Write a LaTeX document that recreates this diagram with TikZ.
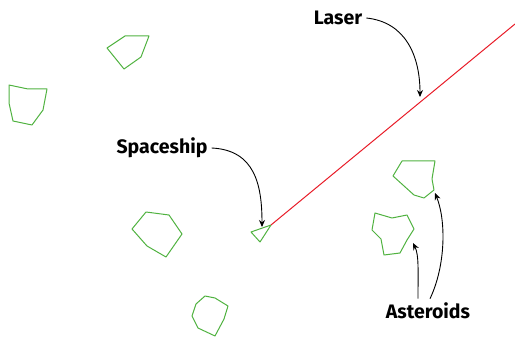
\documentclass[tikz,border=0pt]{standalone}
\usepackage{fontspec}
\setsansfont{Fira Sans}
\usetikzlibrary{arrows.meta}
\definecolor{rockgreen}{RGB}{80,178,64}
\definecolor{beamred}{RGB}{232,28,40}
\tikzset{
  rock/.style={draw=rockgreen, line width=1pt, line join=round},
  beam/.style={draw=beamred, line width=1pt},
  callout/.style={draw=black, line width=0.9pt, -{Stealth[length=7pt,width=6pt]}},
  tag/.style={font=\sffamily\bfseries\fontsize{19.5}{19.5}\selectfont, inner sep=4pt}
}
\begin{document}
\begin{tikzpicture}[x=1pt,y=-1pt]
\useasboundingbox (0,0) rectangle (515,337);
% asteroids
\draw[rock] (107,48) -- (125,36) -- (149,36) -- (141,57) -- (124,69) -- cycle;
\draw[rock] (9,85) -- (28,89) -- (47,89) -- (43,110) -- (32,125) -- (13,121) -- (9,103) -- cycle;
\draw[rock] (132,229) -- (146,212) -- (169,215) -- (182,234) -- (166,257) -- (147,246) -- cycle;
\draw[rock] (205,296) -- (215,298) -- (228,306) -- (224,319) -- (215,336) -- (198,328) -- (192,316) -- (196,304) -- cycle;
\draw[rock] (393,176) -- (402,161) -- (435,161) -- (432,179) -- (434,190) -- (424,198) -- (414,195) -- cycle;
\draw[rock] (372,230) -- (375,213) -- (392,218) -- (407,215) -- (414,229) -- (407,240) -- (400,253) -- (384,255) -- (381,239) -- cycle;
% ship and laser
\draw[rock] (251,232) -- (271,225) -- (260,242) -- cycle;
\draw[beam] (271,225) -- (515,24);
% labels
\node[tag] (laserlbl) at (338,18) {Laser};
\node[tag] (shiplbl) at (162,148) {Spaceship};
\node[tag] (rocklbl) at (428,311) {Asteroids};
\coordinate (laserpt) at (420,97);
\coordinate (shippt) at (262,227);
\coordinate (rockpta) at (413,243);
\coordinate (rockptb) at (435,193);
\draw[callout] (laserlbl.east) .. controls (405,22) and (420,55) .. (laserpt);
\draw[callout] (shiplbl.east) .. controls (255,150) and (262,185) .. (shippt);
\draw[callout] ([xshift=-10pt]rocklbl.north) .. controls (418,270) and (419,255) .. (rockpta);
\draw[callout] ([xshift=2pt]rocklbl.north) .. controls (446,265) and (446,220) .. (rockptb);
\end{tikzpicture}
\end{document}
